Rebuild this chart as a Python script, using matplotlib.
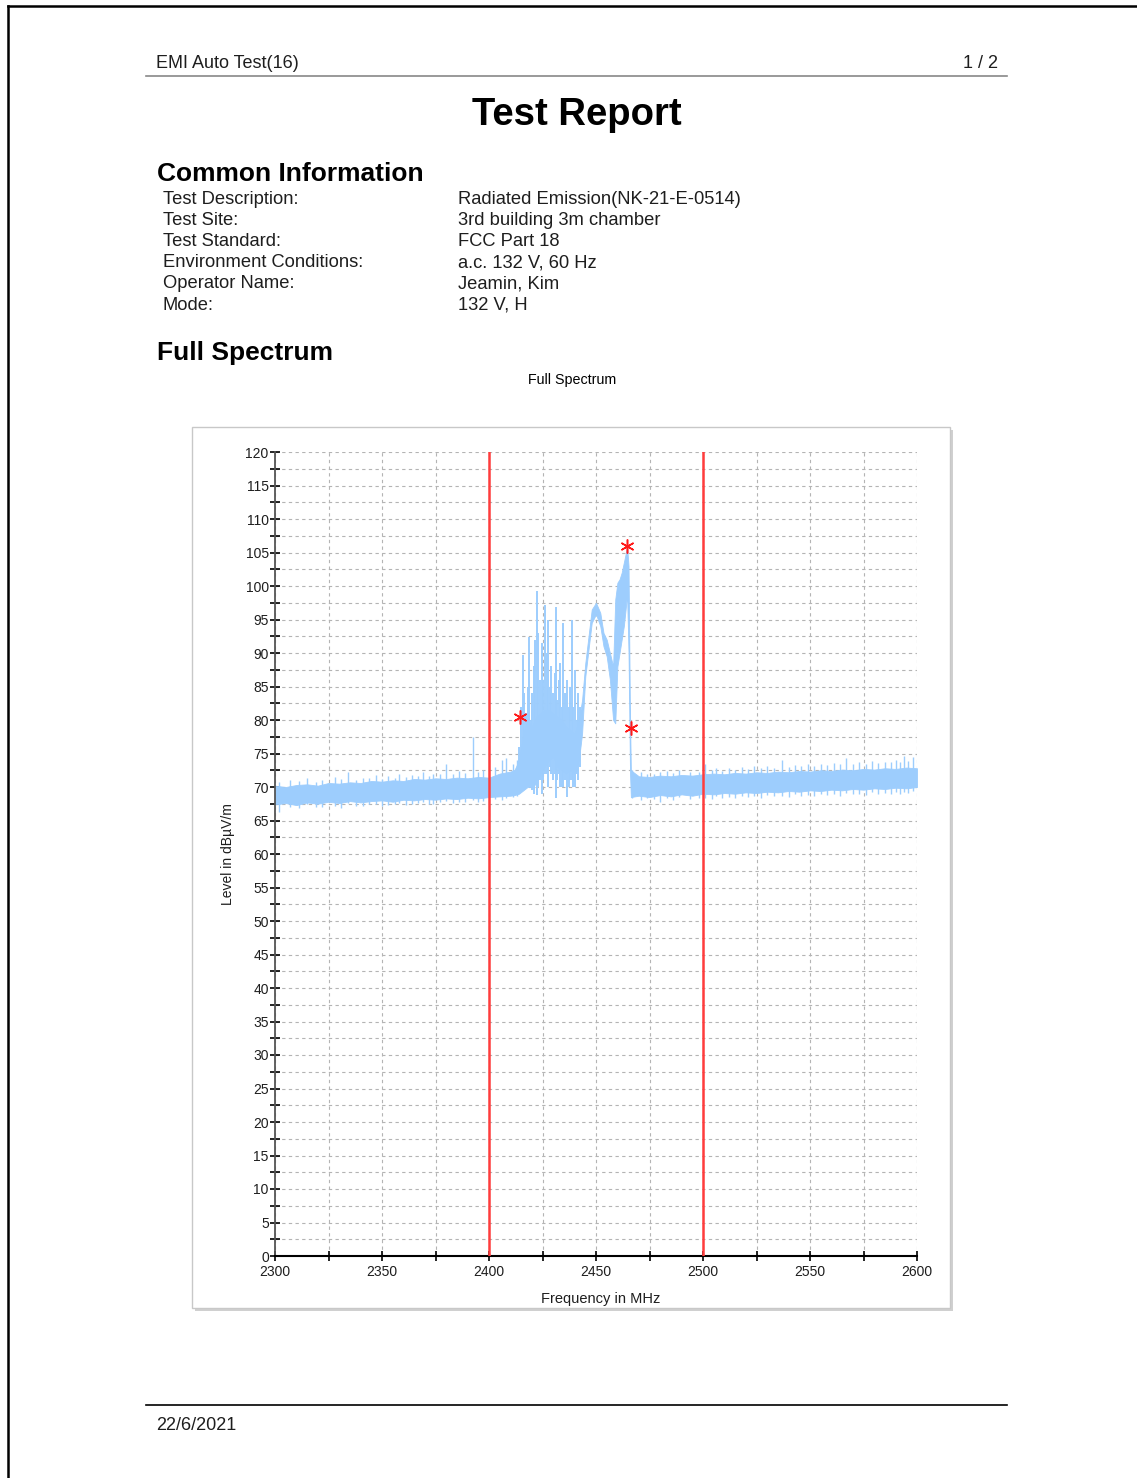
import numpy as np
import matplotlib.pyplot as plt
from matplotlib.patches import Rectangle
from matplotlib.lines import Line2D
from matplotlib.ticker import MultipleLocator

plt.rcParams['font.family'] = ['Liberation Sans', 'DejaVu Sans']

# report header
info_labels = ['Test Description:', 'Test Site:', 'Test Standard:',
               'Environment Conditions:', 'Operator Name:', 'Mode:']
info_values = ['Radiated Emission(NK-21-E-0514)', '3rd building 3m chamber',
               'FCC Part 18', 'a.c. 132 V, 60 Hz', 'Jeamin, Kim', '132 V, H']

# spectrum trace envelope (MHz, dBuV/m)
freq = [2300, 2305, 2310, 2315, 2320, 2325, 2330, 2335, 2340, 2345,
        2350, 2355, 2360, 2365, 2370, 2375, 2380, 2385, 2390, 2395,
        2400, 2405, 2410,
        2412, 2414, 2416, 2418, 2420, 2422, 2424, 2426, 2428, 2430,
        2432, 2434, 2436, 2438, 2440, 2442, 2443.5, 2445, 2446.5, 2448,
        2450, 2452, 2453.5, 2455, 2456.5, 2458, 2459, 2460, 2461, 2462,
        2463, 2464, 2464.5, 2465.2, 2465.9, 2466.3,
        2470, 2475, 2480, 2485, 2490, 2495, 2500, 2505, 2510, 2515,
        2520, 2525, 2530, 2535, 2540, 2545, 2550, 2555, 2560, 2565,
        2570, 2575, 2580, 2585, 2590, 2595, 2600]
level_lo = [67.4, 67.6, 67.3, 67.7, 67.5, 67.8, 67.6, 67.9, 67.7, 67.9,
            68.0, 67.8, 68.1, 68.0, 68.2, 68.1, 68.3, 68.2, 68.4, 68.3,
            68.5, 68.6, 68.7,
            68.8, 69.0, 69.5, 70.0, 70.0, 70.5, 72.0, 73.0, 74.0, 74.5,
            73.0, 72.5, 72.0, 72.5, 72.0, 74.0, 78.0, 86.5, 90.5, 94.5,
            95.8, 94.0, 91.0, 89.5, 86.0, 80.0, 79.5, 88.0, 90.0, 92.0,
            94.0, 97.0, 99.0, 90.0, 72.0, 68.5,
            68.7, 68.5, 68.8, 68.6, 68.9, 68.7, 69.0, 68.9, 69.1, 69.0,
            69.2, 69.1, 69.3, 69.2, 69.4, 69.3, 69.5, 69.4, 69.6, 69.5,
            69.7, 69.6, 69.8, 69.7, 69.9, 69.8, 70.0]
level_hi = [70.2, 70.0, 70.3, 70.4, 70.2, 70.6, 70.5, 70.7, 70.6, 70.9,
            70.8, 71.0, 70.9, 71.2, 71.1, 71.3, 71.2, 71.4, 71.3, 71.5,
            71.4, 72.0, 72.3,
            72.6, 74.0, 78.0, 80.0, 79.0, 80.5, 81.0, 81.5, 81.5, 81.0,
            80.5, 80.0, 79.0, 78.5, 78.0, 80.0, 83.0, 88.5, 92.5, 96.5,
            97.5, 96.0, 93.0, 92.0, 90.0, 88.0, 98.0, 100.5, 101.0, 102.0,
            103.5, 105.0, 106.0, 103.0, 80.0, 72.5,
            71.6, 71.5, 71.7, 71.6, 71.8, 71.7, 71.9, 72.0, 71.9, 72.1,
            72.0, 72.2, 72.1, 72.3, 72.2, 72.4, 72.3, 72.5, 72.4, 72.6,
            72.5, 72.7, 72.6, 72.8, 72.7, 72.9, 72.8]

# single sweep spikes
spike_freq = [2302, 2307, 2311, 2315, 2319, 2322, 2328, 2331, 2334, 2338,
              2341, 2344, 2347, 2350, 2353, 2356, 2358, 2361, 2364, 2367,
              2369, 2372, 2374, 2377, 2380, 2383, 2386, 2389, 2392.5, 2395,
              2397, 2403, 2406, 2408, 2411, 2413,
              2414.0, 2415.0, 2415.7, 2416.5, 2417.3, 2418.0, 2418.8, 2419.6,
              2420.3, 2421.0, 2421.7, 2422.3, 2423.0, 2423.8, 2424.6, 2425.4,
              2426.2, 2427.0, 2427.7, 2428.5, 2429.2, 2430.0, 2430.7, 2431.3,
              2432.0, 2432.7, 2433.3, 2434.0, 2434.7, 2435.5, 2436.4, 2437.2,
              2438.0, 2438.6, 2439.3, 2440.2, 2441.0, 2441.8, 2442.6,
              2467, 2471, 2474, 2477, 2480, 2483, 2486, 2489, 2494, 2498,
              2501, 2504, 2506, 2509, 2512, 2515, 2518, 2521, 2524, 2527,
              2530, 2533, 2537, 2540, 2543, 2546, 2549, 2552, 2555, 2558,
              2561, 2564, 2567, 2570, 2573, 2576, 2579, 2582, 2585, 2588,
              2590, 2592, 2594, 2596, 2598]
spike_bot = [66.3, 67.0, 66.8, 67.5, 67.0, 67.0, 67.2, 66.9, 67.6, 67.1,
             67.2, 67.4, 67.5, 67.1, 67.3, 67.5, 67.6, 67.3, 67.4, 67.6,
             67.8, 67.5, 67.5, 67.7, 67.9, 67.6, 67.7, 67.8, 68.0, 67.7,
             67.9, 68.2, 68.0, 68.4, 68.5, 68.6,
             69.5, 70.0, 70.0, 70.0, 70.0, 70.5, 70.0, 70.0,
             69.5, 69.0, 71.0, 68.8, 70.0, 71.0, 69.0, 71.0,
             72.0, 72.0, 70.0, 73.0, 72.0, 71.0, 72.0, 68.4,
             71.0, 72.0, 70.0, 70.0, 70.0, 71.0, 68.5, 70.0,
             71.0, 71.0, 70.0, 70.0, 72.0, 71.0, 73.0,
             68.3, 68.0, 68.4, 68.2, 67.8, 68.3, 68.1, 68.5, 68.2, 68.3,
             68.4, 68.2, 68.6, 68.3, 68.5, 68.4, 68.7, 68.5, 68.6, 68.4,
             68.8, 68.6, 68.7, 68.5, 68.9, 68.7, 68.8, 68.6, 69.0, 68.8,
             68.9, 68.7, 69.1, 68.9, 69.0, 68.8, 69.2, 69.0, 69.1, 68.9,
             69.3, 69.0, 69.2, 69.1, 69.4]
spike_top = [70.8, 71.0, 70.9, 71.3, 70.8, 71.0, 71.5, 71.2, 72.2, 71.1,
             71.4, 71.3, 71.8, 71.2, 71.6, 71.4, 72.0, 71.5, 71.8, 71.6,
             72.2, 71.7, 72.0, 71.9, 73.5, 72.0, 72.4, 72.1, 77.5, 72.2,
             72.6, 73.0, 74.0, 74.3, 73.5, 74.0,
             76.0, 82.0, 89.7, 84.0, 81.0, 85.0, 92.4, 80.0,
             84.0, 88.0, 92.0, 99.2, 93.0, 86.0, 91.5, 86.0,
             97.2, 90.0, 94.9, 85.0, 88.0, 84.0, 87.0, 96.9,
             83.0, 86.0, 88.5, 82.0, 94.5, 84.0, 86.0, 82.0,
             85.0, 94.9, 82.0, 87.5, 80.0, 84.0, 82.0,
             72.5, 72.3, 71.9, 72.0, 72.3, 72.4, 72.1, 72.6, 72.3, 72.2,
             73.4, 72.5, 72.8, 72.4, 72.9, 72.6, 73.0, 72.7, 73.2, 72.8,
             73.1, 72.9, 74.0, 73.0, 73.3, 73.1, 73.5, 73.2, 73.4, 73.3,
             73.6, 73.4, 74.3, 73.5, 73.7, 73.4, 73.9, 73.6, 73.8, 73.7,
             74.1, 73.8, 74.6, 73.9, 74.5]

# peak markers
peak_freq = [2414.5, 2464.5, 2466.4]
peak_level = [80.4, 106.0, 78.8]

band_edges = [2400, 2500]

W, H = 1137, 1478
fig = plt.figure(figsize=(W / 100, H / 100), dpi=100)


def fx(px):
    return px / W


def fy(py):
    # text centres sit a few pixels low in the source page
    return 1 - py / H


# page border
fig.add_artist(Line2D([fx(8), fx(8)], [fy(6), 0], color='black', lw=1.8))
fig.add_artist(Line2D([fx(8), 1], [fy(6), fy(6)], color='black', lw=1.8))

txt = '#1e1e1e'
dy = 3
fig.text(fx(156), fy(60 + dy), 'EMI Auto Test(16)', fontsize=13, color=txt, va='center')
fig.text(fx(998), fy(60 + dy), '1 / 2', fontsize=13, color=txt, va='center', ha='right')
fig.add_artist(Line2D([fx(146), fx(1007)], [fy(76), fy(76)], color='#888888', lw=1.2))

fig.text(fx(577), fy(112 + dy), 'Test Report', fontsize=27.5, fontweight='bold',
         color='black', ha='center', va='center')
fig.text(fx(157), fy(171 + dy), 'Common Information', fontsize=19, fontweight='bold',
         color='black', va='center')
for i, (lab, val) in enumerate(zip(info_labels, info_values)):
    y = 196 + i * 21.2 + dy
    fig.text(fx(163), fy(y), lab, fontsize=13.2, color=txt, va='center')
    fig.text(fx(458), fy(y), val, fontsize=13.2, color=txt, va='center')
fig.text(fx(157), fy(350 + dy), 'Full Spectrum', fontsize=19, fontweight='bold',
         color='black', va='center')
fig.text(fx(572), fy(379 + 1), 'Full Spectrum', fontsize=10.3, color='black',
         ha='center', va='center')

# chart frame with shadow
fig.add_artist(Rectangle((fx(195), fy(1311)), fx(758), 881 / H,
                         transform=fig.transFigure, facecolor='#d0d0d0',
                         edgecolor='none', zorder=-2))
fig.add_artist(Rectangle((fx(192), fy(1308)), fx(758), 881 / H,
                         transform=fig.transFigure, facecolor='white',
                         edgecolor='#c8c8c8', lw=1, zorder=-1))

# footer
fig.add_artist(Line2D([fx(146), fx(1007)], [fy(1405), fy(1405)], color='black', lw=1.2))
fig.text(fx(156), fy(1425 + 1), '22/6/2021', fontsize=13, color=txt, va='center')

ax = fig.add_axes([fx(275), fy(1256), (917 - 275) / W, (1256 - 452) / H])
ax.set_facecolor('none')
trace = '#9dcdfd'
ax.fill_between(freq, level_lo, level_hi, color=trace, lw=0.6, zorder=2)
# burst spikes are drawn a bit wider than the noise-floor ones
widths = [1.4 if 2413.5 < f < 2443 else 1.0 for f in spike_freq]
ax.vlines(spike_freq, spike_bot, spike_top, color=trace, lw=widths, zorder=2)
for f in band_edges:
    ax.axvline(f, color='#ff3c3c', lw=1.8, zorder=3)
ax.plot(peak_freq, peak_level, ls='none', marker=(6, 2, 0), ms=10, mew=1.1,
        color='#ff1a1a', zorder=4)

ax.set_xlim(2300, 2600)
ax.set_ylim(0, 120)
ax.xaxis.set_major_locator(MultipleLocator(50))
ax.xaxis.set_minor_locator(MultipleLocator(25))
ax.yaxis.set_major_locator(MultipleLocator(5))
ax.yaxis.set_minor_locator(MultipleLocator(2.5))
ax.grid(which='both', color='#b4b4b4', ls=(0, (3, 3)), lw=0.8)
ax.set_axisbelow(True)

for s in ['top', 'right']:
    ax.spines[s].set_visible(False)
ax.spines['left'].set_color('#555555')
ax.spines['left'].set_linewidth(1.3)
ax.spines['bottom'].set_color('black')
ax.spines['bottom'].set_linewidth(1.5)
ax.tick_params(which='both', direction='inout', length=7, width=1.2,
               color='black', labelsize=10, labelcolor=txt)
ax.tick_params(axis='y', pad=1)
ax.tick_params(axis='x', pad=3)

ax.set_xlabel('Frequency in MHz', fontsize=10.5, color=txt)
ax.set_ylabel('Level in dBµV/m', fontsize=10, color=txt)
ax.xaxis.set_label_coords(0.508, -0.0535)
ax.xaxis.label.set_va('center')
ax.yaxis.set_label_coords(-0.0732, 0.5)
ax.yaxis.label.set_va('center')

fig.savefig('out.png', dpi=100)
